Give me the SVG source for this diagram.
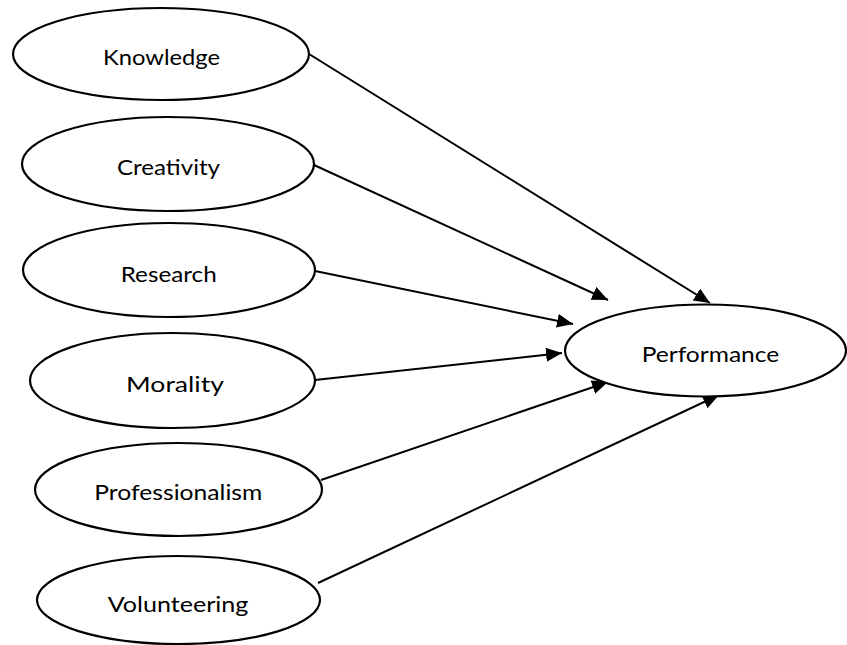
<svg xmlns="http://www.w3.org/2000/svg" width="847" height="645" viewBox="0 0 847 645">
  <style>
    .bg { fill: #ffffff; }
    .link { stroke: #000000; stroke-width: 2; fill: none; marker-end: url(#arrow); }
    .node ellipse { fill: #ffffff; stroke: #000000; stroke-width: 2.2; }
    .node text { font-family: Lato, "Open Sans", "Liberation Sans", sans-serif; font-size: 21px; fill: #000000; text-anchor: middle; }
  </style>
  <defs>
    <marker id="arrow" markerUnits="userSpaceOnUse" markerWidth="17" markerHeight="15" refX="16" refY="7" orient="auto" viewBox="0 0 17 15">
      <path d="M0,0 L16,7 L0,14 z" fill="#000000"/>
    </marker>
  </defs>
  <rect class="bg" x="0" y="0" width="847" height="645"/>

  <!-- connectors: every factor points at Performance -->
  <g id="connectors">
    <line class="link" x1="309" y1="54" x2="710" y2="303"/>
    <line class="link" x1="314" y1="165" x2="608" y2="300"/>
    <line class="link" x1="315" y1="271" x2="573" y2="324"/>
    <line class="link" x1="315" y1="380" x2="562" y2="353"/>
    <line class="link" x1="321" y1="480" x2="608" y2="382"/>
    <line class="link" x1="318" y1="583" x2="719" y2="395"/>
  </g>

  <g id="knowledge" class="node">
    <ellipse cx="161" cy="54" rx="148" ry="46"/>
    <text x="161.5" y="65" textLength="117" lengthAdjust="spacingAndGlyphs">Knowledge</text>
  </g>
  <g id="creativity" class="node">
    <ellipse cx="168" cy="164" rx="146" ry="47"/>
    <text x="168.5" y="175" textLength="103" lengthAdjust="spacingAndGlyphs">Creativity</text>
  </g>
  <g id="research" class="node">
    <ellipse cx="169" cy="270" rx="146" ry="47"/>
    <text x="168.7" y="281.5" textLength="96" lengthAdjust="spacingAndGlyphs">Research</text>
  </g>
  <g id="morality" class="node">
    <ellipse cx="172.5" cy="380.5" rx="142.5" ry="47.5"/>
    <text x="175" y="391.5" textLength="98" lengthAdjust="spacingAndGlyphs">Morality</text>
  </g>
  <g id="professionalism" class="node">
    <ellipse cx="178.5" cy="489.5" rx="143.5" ry="46.5"/>
    <text x="178.3" y="500" textLength="168" lengthAdjust="spacingAndGlyphs">Professionalism</text>
  </g>
  <g id="volunteering" class="node">
    <ellipse cx="178.5" cy="600" rx="141.5" ry="44"/>
    <text x="178" y="612" textLength="140.7" lengthAdjust="spacingAndGlyphs">Volunteering</text>
  </g>
  <g id="performance" class="node">
    <ellipse cx="705.5" cy="350.5" rx="140.5" ry="46"/>
    <text x="710.5" y="361.7" textLength="137.6" lengthAdjust="spacingAndGlyphs">Performance</text>
  </g>
</svg>
